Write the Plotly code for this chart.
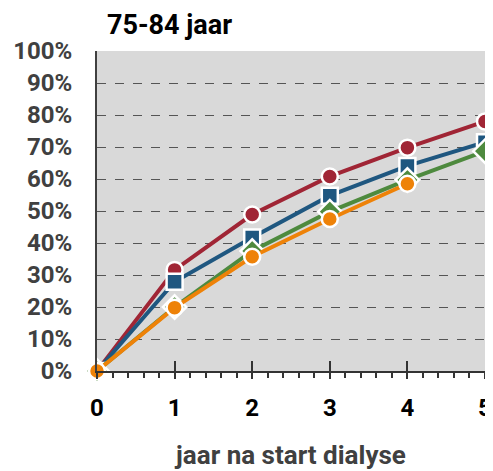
import plotly.graph_objects as go

years = [0, 1, 2, 3, 4, 5]
red_vals = [0.0, 0.316, 0.489, 0.608, 0.698, 0.78]
blue_vals = [0.0, 0.279, 0.417, 0.548, 0.641, 0.715]
green_vals = [0.0, 0.20, 0.375, 0.498, 0.597, 0.687]
orange_vals = [0.0, 0.198, 0.357, 0.475, 0.585]

series = [
    ("red", red_vals, "#A02535", "circle"),
    ("blue", blue_vals, "#1F5780", "square"),
    ("green", green_vals, "#4E8A3E", "diamond"),
    ("orange", orange_vals, "#EE8208", "circle"),
]

fig = go.Figure()
for name, vals, col, sym in series:
    fig.add_trace(go.Scatter(
        x=years[:len(vals)], y=vals, mode="lines+markers", name=name,
        line=dict(color=col, width=4),
        marker=dict(symbol=sym, size=16 if sym != "diamond" else 18, color=col,
                    line=dict(color="white", width=2.5)),
        cliponaxis=False, showlegend=False,
    ))

# overlay axis for the inward part of major ticks
fig.add_trace(go.Scatter(x=[0], y=[0], xaxis="x2", mode="markers",
                         marker=dict(opacity=0), showlegend=False, hoverinfo="skip"))

fig.update_layout(
    width=493, height=471,
    margin=dict(l=89, r=16, t=43, b=108, autoexpand=False),
    paper_bgcolor="white", plot_bgcolor="#D9D9D9",
    font=dict(family="Roboto", size=24, color="#404040", weight="bold"),
    title=dict(text="75-84 jaar", x=99/493, xanchor="left", xref="container",
               y=1 - 17/471, yanchor="middle", yref="container",
               font=dict(family="Roboto", size=27, color="black", weight="bold")),
    xaxis=dict(range=[0, 5], dtick=1, showgrid=False, zeroline=False, automargin=False,
               showline=True, linecolor="#333333", linewidth=2,
               ticks="outside", ticklen=6, tickwidth=2, tickcolor="#333333",
               minor=dict(dtick=0.2, ticks="outside", ticklen=5, tickwidth=1.5, tickcolor="#333333"),
               tickfont=dict(color="black", size=24, weight="bold"),
               ticklabelstandoff=8,
               title=dict(text="jaar na start dialyse", standoff=25,
                          font=dict(color="#404040", size=26, weight="bold"))),
    xaxis2=dict(range=[0, 5], dtick=1, overlaying="x", showgrid=False, zeroline=False,
                showline=False, ticks="inside", ticklen=10, tickwidth=2, tickcolor="#333333",
                showticklabels=False, side="bottom", automargin=False),
    yaxis=dict(range=[0, 1], dtick=0.1, tickformat=".0%", showgrid=True, automargin=False,
               gridcolor="#555555", griddash="dash", gridwidth=1, zeroline=False,
               showline=True, linecolor="#404040", linewidth=2, ticks="",
               ticklabelstandoff=18,
               tickfont=dict(color="#404040", size=24, weight="bold")),
)

fig.write_html("out.html")
